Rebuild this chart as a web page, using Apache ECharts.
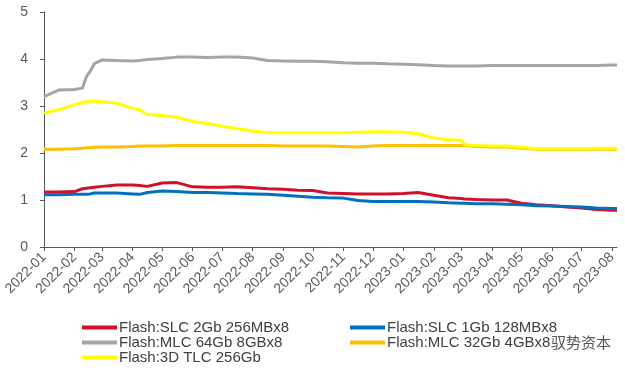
<!DOCTYPE html>
<html>
<head>
<meta charset="utf-8">
<script src="https://cdn.jsdelivr.net/npm/echarts@6/dist/echarts.min.js"></script>
<style>
  html, body { margin: 0; padding: 0; background: #fff; }
  #main { width: 625px; height: 376px; }
</style>
</head>
<body>
<div id="main"></div>
<script>
// 采样日期
var dates = [
  '2022-01-01', '2022-01-16', '2022-02-01', '2022-02-09', '2022-02-13', '2022-02-17', '2022-02-21',
  '2022-03-01', '2022-03-16', '2022-04-01', '2022-04-08', '2022-04-16', '2022-05-01', '2022-05-16',
  '2022-06-01', '2022-06-16', '2022-07-01', '2022-07-16', '2022-08-01', '2022-08-16', '2022-09-01',
  '2022-09-16', '2022-10-01', '2022-10-16', '2022-11-01', '2022-11-16', '2022-12-01', '2022-12-16',
  '2023-01-01', '2023-01-16', '2023-02-01', '2023-02-16', '2023-03-01', '2023-03-04', '2023-03-16',
  '2023-04-01', '2023-04-16', '2023-05-01', '2023-05-16', '2023-06-01', '2023-06-16', '2023-07-01',
  '2023-07-16', '2023-08-01', '2023-08-06'
];

var slc2Gb = [
  1.17, 1.17, 1.18, 1.24, 1.25, 1.26, 1.27,
  1.29, 1.32, 1.32, 1.31, 1.29, 1.36, 1.37,
  1.28, 1.27, 1.27, 1.28, 1.26, 1.24, 1.23,
  1.21, 1.20, 1.15, 1.14, 1.13, 1.13, 1.13,
  1.14, 1.16, 1.10, 1.05, 1.03, 1.02, 1.01,
  1.00, 1.00, 0.93, 0.90, 0.88, 0.85, 0.83,
  0.80, 0.78, 0.78
];
var slc1Gb = [
  1.11, 1.11, 1.12, 1.12, 1.12, 1.13, 1.15,
  1.15, 1.15, 1.13, 1.12, 1.16, 1.19, 1.18,
  1.16, 1.16, 1.15, 1.14, 1.13, 1.12, 1.10,
  1.08, 1.06, 1.05, 1.04, 0.99, 0.97, 0.97,
  0.97, 0.97, 0.96, 0.94, 0.93, 0.93, 0.92,
  0.92, 0.91, 0.90, 0.88, 0.87, 0.86, 0.85,
  0.83, 0.82, 0.82
];
var mlc64Gb = [
  3.20, 3.34, 3.35, 3.38, 3.62, 3.74, 3.90,
  3.98, 3.97, 3.96, 3.97, 3.99, 4.01, 4.04,
  4.04, 4.03, 4.04, 4.04, 4.02, 3.97, 3.96,
  3.95, 3.95, 3.94, 3.92, 3.91, 3.91, 3.90,
  3.89, 3.88, 3.86, 3.85, 3.85, 3.85, 3.85,
  3.86, 3.86, 3.86, 3.86, 3.86, 3.86, 3.86,
  3.86, 3.87, 3.87
];
var mlc32Gb = [
  2.08, 2.08, 2.09, 2.10, 2.11, 2.11, 2.12,
  2.13, 2.13, 2.14, 2.15, 2.15, 2.15, 2.16,
  2.16, 2.16, 2.16, 2.16, 2.16, 2.16, 2.15,
  2.15, 2.15, 2.15, 2.14, 2.13, 2.15, 2.16,
  2.16, 2.16, 2.16, 2.16, 2.16, 2.16, 2.14,
  2.13, 2.13, 2.10, 2.08, 2.08, 2.08, 2.08,
  2.08, 2.08, 2.08
];
var tlc256Gb = [
  2.85, 2.92, 3.03, 3.07, 3.09, 3.10, 3.10,
  3.09, 3.06, 2.95, 2.92, 2.82, 2.80, 2.76,
  2.67, 2.63, 2.57, 2.52, 2.47, 2.43, 2.43,
  2.43, 2.43, 2.43, 2.43, 2.44, 2.45, 2.45,
  2.44, 2.41, 2.32, 2.28, 2.27, 2.18, 2.16,
  2.15, 2.15, 2.12, 2.09, 2.09, 2.09, 2.09,
  2.10, 2.10, 2.10
];

var names = ['Flash:SLC 2Gb 256MBx8', 'Flash:SLC 1Gb 128MBx8', 'Flash:MLC 64Gb 8GBx8',
  'Flash:MLC 32Gb 4GBx8', 'Flash:3D TLC 256Gb'];
var values = [slc2Gb, slc1Gb, mlc64Gb, mlc32Gb, tlc256Gb];
var colors = ['#D0112B', '#0070C0', '#A5A5A5', '#FFC000', '#FFFF00'];

function pairs(arr) {
  return dates.map(function (d, i) { return [d, arr[i]]; });
}

var series = names.map(function (n, i) {
  return {
    name: n,
    type: 'line',
    data: pairs(values[i]),
    showSymbol: false,
    symbol: 'none',
    lineStyle: { width: 3, color: colors[i] },
    itemStyle: { color: colors[i] }
  };
});

var legendBase = {
  orient: 'vertical',
  top: 315,
  icon: 'rect',
  itemWidth: 35,
  itemHeight: 4,
  itemGap: 0,
  textStyle: { fontFamily: 'Liberation Sans', fontSize: 15, color: '#404040', padding: [0, 0, 0, -3] }
};

var option = {
  animation: false,
  color: colors,
  grid: { left: 44, right: 8, top: 12, bottom: 129 },
  legend: [
    Object.assign({}, legendBase, { left: 77, data: [names[0], names[2], names[4]] }),
    Object.assign({}, legendBase, { left: 345, data: [names[1], names[3]] })
  ],
  xAxis: {
    type: 'time',
    min: '2022-01-01',
    max: '2023-08-06',
    splitNumber: 20,
    minInterval: 28 * 86400000,
    maxInterval: 31 * 86400000,
    axisLine: { lineStyle: { color: '#595959', width: 1 } },
    axisTick: { show: true, length: 4, lineStyle: { color: '#595959' } },
    splitLine: { show: false },
    axisLabel: {
      rotate: 45,
      formatter: '{yyyy}-{MM}',
      fontFamily: 'Liberation Sans',
      fontSize: 14,
      color: '#595959',
      margin: 8,
      showMaxLabel: false
    }
  },
  yAxis: {
    type: 'value',
    min: 0,
    max: 5,
    interval: 1,
    axisLine: { show: true, lineStyle: { color: '#595959' } },
    axisTick: { show: true, length: 4, lineStyle: { color: '#595959' } },
    splitLine: { show: false },
    axisLabel: { fontFamily: 'Liberation Sans', fontSize: 14, color: '#595959', margin: 16 }
  },
  graphic: [{
    type: 'text',
    left: 550,
    top: 334,
    style: {
      text: '驭势资本',
      font: '15px "Noto Sans CJK SC"',
      fill: '#555',
      stroke: '#fff',
      lineWidth: 2
    }
  }],
  series: series
};

var myChart = echarts.init(document.getElementById('main'));
myChart.setOption(option);
</script>
</body>
</html>
